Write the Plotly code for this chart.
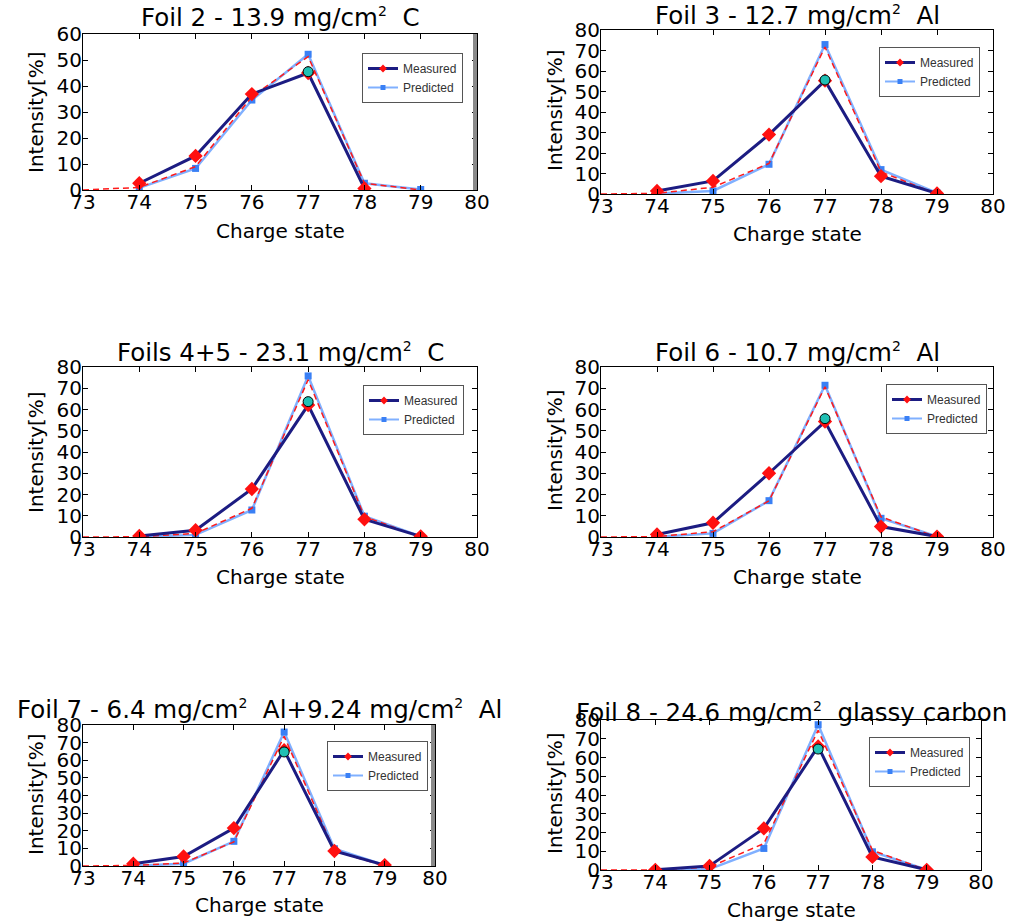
import plotly.graph_objects as go

W, H = 1018, 924
FONT = "DejaVu Sans"

# ---------------- data ----------------
charge = [73, 74, 75, 76, 77, 78, 79]
charge_pts = [74, 75, 76, 77, 78, 79]
peak_charge = [77]

SUP2 = "<sup><span style='font-size:14px'>2</span></sup>"
titles = [
    "Foil 2 - 13.9 mg/cm" + SUP2 + "\u00a0\u00a0C",
    "Foil 3 - 12.7 mg/cm" + SUP2 + "\u00a0\u00a0Al",
    "Foils 4+5 - 23.1 mg/cm" + SUP2 + "\u00a0\u00a0C",
    "Foil 6 - 10.7 mg/cm" + SUP2 + "\u00a0\u00a0Al",
    "Foil 7 - 6.4 mg/cm" + SUP2 + "\u00a0\u00a0Al+9.24 mg/cm" + SUP2 + "\u00a0\u00a0Al",
    "Foil 8 - 24.6 mg/cm" + SUP2 + "\u00a0\u00a0glassy carbon",
]

# Measured (charge 74..79)
meas_foil2 = [2.6, 13.1, 36.9, 45.0, 0.6, None]
meas_foil3 = [1.5, 6.4, 29.0, 55.3, 8.7, 0.3]
meas_foil45 = [0.5, 3.2, 22.6, 62.1, 8.3, 0.3]
meas_foil6 = [1.2, 6.7, 30.0, 54.3, 4.9, 0.2]
meas_foil7 = [1.3, 5.4, 21.5, 65.7, 8.5, 0.5]
meas_foil8 = [0.1, 2.2, 22.2, 65.9, 7.0, 0.1]

# Predicted (charge 74..79)
pred_foil2 = [0.8, 8.3, 34.6, 52.2, 2.6, 0.2]
pred_foil3 = [0.2, 1.5, 14.5, 72.9, 11.9, 0.5]
pred_foil45 = [0.1, 1.0, 12.7, 75.8, 9.8, 0.3]
pred_foil6 = [0.1, 1.7, 17.1, 71.4, 8.8, 0.3]
pred_foil7 = [0.1, 1.3, 14.0, 76.0, 9.8, 0.5]
pred_foil8 = [0.0, 0.5, 11.5, 77.5, 9.7, 0.2]

# Red dashed curve (charge 73..79)
model_foil2 = [0, 1.0, 9.0, 35.9, 51.3, 2.6, 0]
model_foil3 = [0, 0.3, 3.3, 14.9, 71.7, 10.8, 0]
model_foil45 = [0, 0.1, 1.7, 13.5, 74.0, 9.6, 0]
model_foil6 = [0, 0.2, 2.5, 17.0, 70.7, 9.5, 0]
model_foil7 = [0, 0.3, 1.7, 13.7, 73.6, 8.5, 0]
model_foil8 = [0, 0.0, 1.6, 14.1, 74.5, 10.5, 0]

# Peak marker (charge 77)
peak_foil2 = [45.5]
peak_foil3 = [55.6]
peak_foil45 = [63.7]
peak_foil6 = [55.7]
peak_foil7 = [64.7]
peak_foil8 = [64.5]

ymax = [60, 80, 80, 80, 80, 80]

measured = [meas_foil2, meas_foil3, meas_foil45, meas_foil6, meas_foil7, meas_foil8]
predicted = [pred_foil2, pred_foil3, pred_foil45, pred_foil6, pred_foil7, pred_foil8]
model = [model_foil2, model_foil3, model_foil45, model_foil6, model_foil7, model_foil8]
peaks = [peak_foil2, peak_foil3, peak_foil45, peak_foil6, peak_foil7, peak_foil8]

# ---------------- layout (pixels) ----------------
# plot boxes: left, right, top, bottom
boxes = [
    (83, 477, 34, 190),
    (601, 993, 30, 194),
    (83, 477, 367, 537),
    (601, 993, 367, 537),
    (83, 435, 725, 866),
    (601, 981, 720, 870),
]
legend_pos = [(362, 53), (879, 47), (363, 385), (886, 384), (327, 741), (869, 737)]
title_pos = [(280, 18), (797, 15), (280, 352), (797, 352), (259, 709), (791, 712)]
xlabel_y = [231, 234, 577, 577, 905, 910]
ylabel_pos = [(36, 112), (555, 110), (36, 452), (555, 450), (36, 794), (555, 793)]
gray_edge = [True, False, False, False, True, False]

NAVY = "#1c1c82"
RED = "#ff1010"
LBLUE = "#80b0ff"
SQBLUE = "#3a80f5"


def fx(px):
    return px / W


def fy(py):
    return 1 - py / H


fig = go.Figure()
layout = dict(
    width=W, height=H,
    margin=dict(l=0, r=0, t=0, b=0, pad=0, autoexpand=False),
    paper_bgcolor="white", plot_bgcolor="white",
    font=dict(family=FONT, color="black"),
    annotations=[], shapes=[],
)

for i in range(6):
    s = "" if i == 0 else str(i + 1)
    xa, ya = "x" + s, "y" + s
    lg = "legend" if i == 0 else "legend" + str(i + 1)
    L, R, T, B = boxes[i]

    fig.add_trace(go.Scatter(
        x=charge_pts, y=predicted[i], name="Predicted", mode="lines+markers",
        line=dict(color=LBLUE, width=2.5),
        marker=dict(symbol="square", size=7, color=SQBLUE),
        xaxis=xa, yaxis=ya, showlegend=False))
    fig.add_trace(go.Scatter(
        x=charge, y=model[i], mode="lines", showlegend=False,
        line=dict(color="#ff1a1a", width=1.5, dash="6px,4px"),
        xaxis=xa, yaxis=ya, hoverinfo="skip"))
    fig.add_trace(go.Scatter(
        x=charge_pts, y=measured[i], name="Measured", mode="lines+markers",
        line=dict(color=NAVY, width=3),
        marker=dict(symbol="diamond", size=11, color=RED),
        xaxis=xa, yaxis=ya, showlegend=False))
    fig.add_trace(go.Scatter(
        x=peak_charge, y=peaks[i], mode="markers", showlegend=False,
        marker=dict(symbol="circle", size=10, color="#20c0b4",
                    line=dict(color="black", width=1)),
        xaxis=xa, yaxis=ya))
    # legend entries (smaller markers as in the reference legend)
    fig.add_trace(go.Scatter(
        x=[None], y=[None], name="Measured", mode="lines+markers",
        line=dict(color=NAVY, width=3),
        marker=dict(symbol="diamond", size=6, color=RED),
        xaxis=xa, yaxis=ya, legend=lg, legendrank=1))
    fig.add_trace(go.Scatter(
        x=[None], y=[None], name="Predicted", mode="lines+markers",
        line=dict(color=LBLUE, width=2),
        marker=dict(symbol="square", size=5, color=SQBLUE),
        xaxis=xa, yaxis=ya, legend=lg, legendrank=2))

    axis_common = dict(
        ticks="inside", ticklen=5, tickcolor="black", tickwidth=1,
        mirror="allticks", showline=True, linecolor="black", linewidth=1,
        showgrid=False, zeroline=False, automargin=False,
        tickfont=dict(size=20, family=FONT, color="black"),
    )
    layout["xaxis" + s] = dict(axis_common, range=[73, 80], tick0=73, dtick=1,
                               domain=[fx(L), fx(R)], anchor=ya,
                               ticklabelstandoff=-6)
    layout["yaxis" + s] = dict(axis_common, range=[0, ymax[i]], tick0=0, dtick=10,
                               domain=[fy(B), fy(T)], anchor=xa,
                               ticklabelstandoff=-4)

    if gray_edge[i]:
        layout["shapes"].append(dict(
            type="rect", xref=xa + " domain", yref=ya + " domain",
            x0=1 - 4 / (R - L), x1=1, y0=0, y1=1,
            fillcolor="#8a8a8a", line=dict(width=0), layer="above"))

    lx, ly = legend_pos[i]
    layout[lg] = dict(
        x=fx(lx), y=fy(ly), xanchor="left", yanchor="top",
        bgcolor="white", bordercolor="#555555", borderwidth=1,
        font=dict(size=12, family="Liberation Sans", color="#333333"),
        itemwidth=30, tracegroupgap=0,
    )

    tx, ty = title_pos[i]
    layout["annotations"].append(dict(
        text=titles[i], x=fx(tx), y=fy(ty), xref="paper", yref="paper",
        xanchor="center", yanchor="middle", showarrow=False,
        font=dict(size=24.5, family=FONT, color="black")))
    layout["annotations"].append(dict(
        text="Charge state", x=fx((L + R) / 2), y=fy(xlabel_y[i]),
        xref="paper", yref="paper", xanchor="center", yanchor="middle",
        showarrow=False, font=dict(size=20, family=FONT, color="black")))
    yx, yy = ylabel_pos[i]
    layout["annotations"].append(dict(
        text="Intensity[%]", x=fx(yx), y=fy(yy), xref="paper", yref="paper",
        xanchor="center", yanchor="middle", textangle=-90,
        showarrow=False, font=dict(size=20, family=FONT, color="black")))

fig.update_layout(**layout)
fig.write_html("out.html")
